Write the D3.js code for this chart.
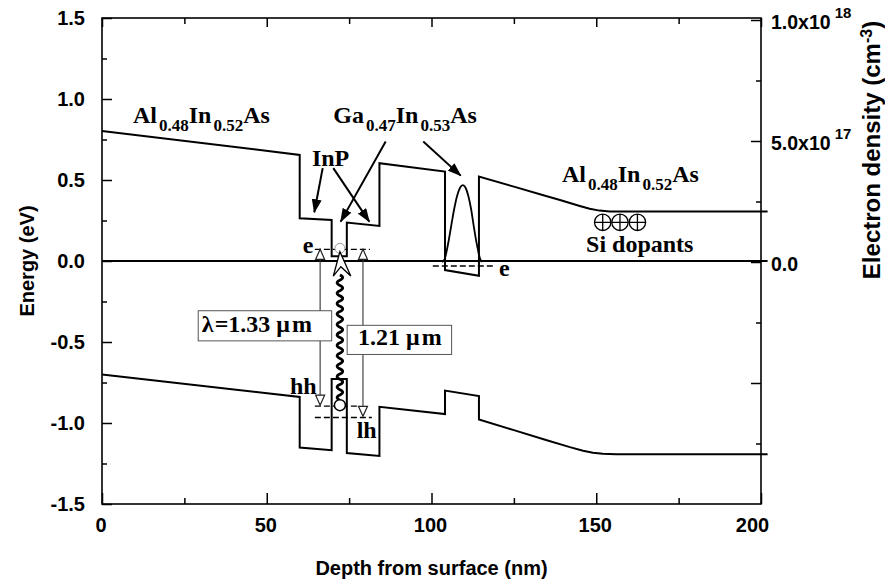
<!DOCTYPE html>
<html><head><meta charset="utf-8">
<script src="https://cdn.jsdelivr.net/npm/d3@7"></script>
<style>body{margin:0;background:#fff}</style>
</head><body>
<svg id="c" width="885" height="585" xmlns="http://www.w3.org/2000/svg"></svg>
<script>
// ---------------- data ----------------
const cbDepth  = [0, 60, 60, 69.7, 69.7, 74.3, 74.3, 84.2, 84.2, 104.1, 104.1, 114.4, 114.4, 125, 135, 139, 142, 145, 148, 151, 154, 202];
const cbEnergy = [0.803, 0.655, 0.264, 0.253, 0.03, 0.03, 0.237, 0.216, 0.604, 0.552, -0.056, -0.091, 0.521, 0.459, 0.400, 0.377, 0.358, 0.340, 0.323, 0.311, 0.305, 0.305];
const vbDepth  = [0, 60, 60, 69.7, 69.7, 74.3, 74.3, 84.2, 84.2, 104.1, 104.1, 114.4, 114.4, 125, 135, 142, 146, 149, 152, 156, 202];
const vbEnergy = [-0.70, -0.839, -1.151, -1.168, -0.729, -0.729, -1.185, -1.203, -0.90, -0.945, -0.80, -0.834, -0.978, -1.044, -1.106, -1.149, -1.171, -1.183, -1.190, -1.193, -1.193];
const densDepth = [103.2, 104.0, 104.6, 105.3, 106.1, 106.9, 107.8, 108.7, 109.5, 110.3, 111.2, 112.0, 112.7, 113.4, 114.1, 114.7, 115.3];
const densValue = [0, 0.12, 0.45, 0.95, 1.59, 2.2, 2.75, 3.08, 3.18, 3.08, 2.72, 2.2, 1.59, 1.0, 0.5, 0.15, 0]; // x1e17 cm^-3
const zeroLine = [[0, 0], [202, 0]];
// energy levels [x0, x1, E]
const levelE1  = [64.6, 81.3, 0.072];
const levelHH  = [64.6, 78.3, -0.896];
const levelLH  = [64.6, 81.9, -0.966];
const levelE2  = [100.4, 119.0, -0.031];

const xTicksMajor = [0, 50, 100, 150, 200];
const xTicksMinor = [25, 75, 125, 175];
const yTicksMajor = [-1.5, -1.0, -0.5, 0, 0.5, 1.0, 1.5];
const yTicksMinor = [-1.25, -0.75, -0.25, 0.25, 0.75, 1.25];
const rTicksMajor = [-5e17, 0, 5e17, 1e18];
const rTicksMinor = [-7.5e17, -2.5e17, 2.5e17, 7.5e17];
const rTickLabels = [[0, "0.0", ""], [5e17, "5.0x10", "17"], [1e18, "1.0x10", "18"]];

// ---------------- layout ----------------
const svg = d3.select("#c");
const W = 885, H = 585;
const x  = d3.scaleLinear().domain([0, 200]).range([102, 761]);
const y  = d3.scaleLinear().domain([-1.5, 1.5]).range([504, 18]);
const yR = d3.scaleLinear().domain([-1e18, 1e18]).range([504, 20]);

svg.append("rect").attr("width", W).attr("height", H).attr("fill", "#fff");

const serif = "'Liberation Serif','Times New Roman',serif";
const sans = "'Liberation Sans',Arial,Helvetica,sans-serif";

const defs = svg.append("defs");
defs.append("marker").attr("id", "ah").attr("viewBox", "0 0 14 10")
  .attr("refX", 13).attr("refY", 5).attr("markerWidth", 14).attr("markerHeight", 10)
  .attr("markerUnits", "userSpaceOnUse").attr("orient", "auto")
  .append("path").attr("d", "M0,0 L14,5 L0,10 Z").attr("fill", "#000");

const line = d3.line().x(d => x(d[0])).y(d => y(d[1]));

// bands
svg.append("path").attr("d", line(cbDepth.map((d, i) => [d, cbEnergy[i]])))
  .attr("fill", "none").attr("stroke", "#000").attr("stroke-width", 2);
svg.append("path").attr("d", line(vbDepth.map((d, i) => [d, vbEnergy[i]])))
  .attr("fill", "none").attr("stroke", "#000").attr("stroke-width", 2);
svg.append("path").attr("d", line(zeroLine))
  .attr("fill", "none").attr("stroke", "#000").attr("stroke-width", 1.8);

// electron density
const dline = d3.line().x(d => x(d[0])).y(d => yR(d[1] * 1e17)).curve(d3.curveMonotoneX);
svg.append("path").attr("d", dline(densDepth.map((d, i) => [d, densValue[i]])))
  .attr("fill", "none").attr("stroke", "#000").attr("stroke-width", 1.8);

// dashed levels
[levelE1, levelHH, levelLH, levelE2].forEach(l => {
  svg.append("line").attr("x1", x(l[0])).attr("x2", x(l[1])).attr("y1", y(l[2])).attr("y2", y(l[2]))
    .attr("stroke", "#000").attr("stroke-width", 1.4).attr("stroke-dasharray", "6,3");
});

// vertical transition lines with open triangle heads
function openTri(px, pyApex, dir) { // dir -1 = up, +1 = down
  const L = 10, w = 4.5;
  const by = pyApex - dir * L;
  svg.append("path").attr("d", `M${px},${pyApex} L${px - w},${by} L${px + w},${by} Z`)
    .attr("fill", "#fff").attr("stroke", "#222").attr("stroke-width", 1.2);
}
function vArrow(xd, eTop, eBot) {
  const px = x(xd);
  svg.append("line").attr("x1", px).attr("x2", px).attr("y1", y(eTop) + 9).attr("y2", y(eBot) - 9)
    .attr("stroke", "#333").attr("stroke-width", 1.1);
  openTri(px, y(eTop), -1);
  openTri(px, y(eBot), 1);
}
vArrow(66.2, levelE1[2], -0.890);
vArrow(79.2, levelE1[2], -0.959);

// label boxes
function box(x0, x1, e0, e1) {
  svg.append("rect").attr("x", x(x0)).attr("y", y(e0)).attr("width", x(x1) - x(x0)).attr("height", y(e1) - y(e0))
    .attr("fill", "#fff").attr("stroke", "#555").attr("stroke-width", 1);
}
box(29.2, 69.7, -0.307, -0.493);
box(74.4, 106.1, -0.397, -0.577);
const t1 = svg.append("text").attr("x", x(30.3)).attr("y", y(-0.437))
  .attr("font-family", serif).attr("font-weight", "bold").attr("font-size", 24);
t1.append("tspan").text("λ");
t1.append("tspan").attr("dx", 1).text("=1.33");
t1.append("tspan").attr("dx", 6).text("μ");
t1.append("tspan").attr("dx", 2).text("m");
const t2 = svg.append("text").attr("x", x(77.7)).attr("y", y(-0.519))
  .attr("font-family", serif).attr("font-weight", "bold").attr("font-size", 24);
t2.append("tspan").text("1.21");
t2.append("tspan").attr("dx", 6).text("μ");
t2.append("tspan").attr("dx", 2).text("m");

// electron circle (top)
svg.append("circle").attr("cx", x(72.2)).attr("cy", y(0.078)).attr("r", 5)
  .attr("fill", "#fff").attr("stroke", "#999").attr("stroke-width", 1);

// wavy photon line
{
  const px = x(72.2), yS = y(-0.859), yE = y(-0.0865);
  const n = 24, A = 2.8, step = (yS - yE) / n;
  let p = `M${px},${yS}`;
  for (let k = 0; k < n; k++) {
    const y0 = yS - k * step, y1 = y0 - step, cx = px + (k % 2 ? A : -A) * 2;
    p += ` Q${cx},${(y0 + y1) / 2} ${px},${y1}`;
  }
  svg.append("path").attr("d", p).attr("fill", "none").attr("stroke", "#000").attr("stroke-width", 2.8);
  // open arrowhead
  const tip = [x(72.2), y(0.0575)], lw = [x(70.2), y(-0.093)], nt = [x(72.5), y(-0.035)], rw = [x(75.5), y(-0.093)];
  svg.append("path").attr("d", `M${tip} L${lw} L${nt} L${rw} Z`)
    .attr("fill", "#fff").attr("stroke", "#000").attr("stroke-width", 1.3).attr("stroke-linejoin", "miter");
}
// hole circle
svg.append("circle").attr("cx", x(72.2)).attr("cy", y(-0.89)).attr("r", 5.5)
  .attr("fill", "#fff").attr("stroke", "#000").attr("stroke-width", 1.5);

// dopant circles
[151.96, 157.2, 162.5].forEach(d => {
  const cx = x(d), cy = y(0.239), r = 8.2;
  svg.append("circle").attr("cx", cx).attr("cy", cy).attr("r", r).attr("fill", "#fff").attr("stroke", "#000").attr("stroke-width", 1.3);
  svg.append("path").attr("d", `M${cx - r},${cy} H${cx + r} M${cx},${cy - r} V${cy + r}`).attr("stroke", "#000").attr("stroke-width", 1.3);
});

// annotation arrows
function arrow(a, b) {
  svg.append("line").attr("x1", x(a[0])).attr("y1", y(a[1])).attr("x2", x(b[0])).attr("y2", y(b[1]))
    .attr("stroke", "#000").attr("stroke-width", 2).attr("marker-end", "url(#ah)");
}
arrow([66.98, 0.573], [64.43, 0.301]);
arrow([70.2, 0.573], [81.12, 0.243]);
arrow([86.1, 0.737], [72.44, 0.243]);
arrow([97.5, 0.737], [108.86, 0.527]);

// text labels
function chem(xd, ed, parts) {
  const t = svg.append("text").attr("x", x(xd)).attr("y", y(ed))
    .attr("font-family", serif).attr("font-weight", "bold").attr("font-size", 24);
  let prevSub = false;
  parts.forEach(([s, sub]) => {
    const ts = t.append("tspan").text(s);
    if (sub) { ts.attr("font-size", 17).attr("dy", 8).attr("dx", 2); prevSub = true; }
    else if (prevSub) { ts.attr("dy", -8); prevSub = false; }
  });
}
chem(9.4, 0.851, [["Al", 0], ["0.48", 1], ["In", 0], ["0.52", 1], ["As", 0]]);
chem(70.2, 0.851, [["Ga", 0], ["0.47", 1], ["In", 0], ["0.53", 1], ["As", 0]]);
chem(139.6, 0.490, [["Al", 0], ["0.48", 1], ["In", 0], ["0.52", 1], ["As", 0]]);
function lbl(xd, ed, s) {
  svg.append("text").attr("x", x(xd)).attr("y", y(ed)).text(s)
    .attr("font-family", serif).attr("font-weight", "bold").attr("font-size", 24);
}
lbl(63.7, 0.589, "InP");
lbl(146.9, 0.0575, "Si dopants");
lbl(60.9, 0.049, "e");
lbl(120.5, -0.093, "e");
lbl(57.06, -0.818, "hh");
lbl(77.3, -1.094, "lh");

// ---------------- axes ----------------
function styleAxis(g) {
  g.select(".domain").remove();
  g.selectAll(".tick line").attr("stroke", "#000").attr("stroke-width", 1.5);
  g.selectAll("text").attr("font-family", sans).attr("font-weight", "bold").attr("font-size", 20).attr("fill", "#000");
}
// left
svg.append("g").attr("transform", `translate(${x(0)},0)`)
  .call(d3.axisLeft(y).tickValues(yTicksMajor).tickSize(-10).tickPadding(17).tickFormat(d => d.toFixed(1))).call(styleAxis);
svg.append("g").attr("transform", `translate(${x(0)},0)`)
  .call(d3.axisLeft(y).tickValues(yTicksMinor).tickSize(-5).tickFormat("")).call(styleAxis);
// bottom
const gb = svg.append("g").attr("transform", `translate(0,${y(-1.5)})`)
  .call(d3.axisBottom(x).tickValues(xTicksMajor).tickSize(-11).tickPadding(14).tickFormat(d3.format("d"))).call(styleAxis);
gb.selectAll(".tick text").attr("dx", (d, i) => i === xTicksMajor.length - 1 ? -9 : -1.5);
svg.append("g").attr("transform", `translate(0,${y(-1.5)})`)
  .call(d3.axisBottom(x).tickValues(xTicksMinor).tickSize(-6).tickFormat("")).call(styleAxis);
// top
svg.append("g").attr("transform", `translate(0,${y(1.5)})`)
  .call(d3.axisTop(x).tickValues(xTicksMajor).tickSize(-9).tickFormat("")).call(styleAxis);
svg.append("g").attr("transform", `translate(0,${y(1.5)})`)
  .call(d3.axisTop(x).tickValues(xTicksMinor).tickSize(-6).tickFormat("")).call(styleAxis);
// right
svg.append("g").attr("transform", `translate(${x(200)},0)`)
  .call(d3.axisRight(yR).tickValues(rTicksMajor).tickSize(-10).tickFormat("")).call(styleAxis);
svg.append("g").attr("transform", `translate(${x(200)},0)`)
  .call(d3.axisRight(yR).tickValues(rTicksMinor).tickSize(-5).tickFormat("")).call(styleAxis);
rTickLabels.forEach(([v, m, e]) => {
  const t = svg.append("text").attr("x", x(200) + 10).attr("y", yR(v) + 9)
    .attr("font-family", sans).attr("font-weight", "bold").attr("font-size", 19.5);
  t.append("tspan").text(m);
  if (e) t.append("tspan").attr("font-size", 15).attr("dx", 4).attr("dy", -11).text(e);
});

// frame
svg.append("rect").attr("x", x(0)).attr("y", y(1.5)).attr("width", x(200) - x(0)).attr("height", y(-1.5) - y(1.5))
  .attr("fill", "none").attr("stroke", "#000").attr("stroke-width", 1.6);

// axis titles
svg.append("text").attr("x", (x(0) + x(200)) / 2).attr("y", 575).attr("text-anchor", "middle")
  .attr("font-family", sans).attr("font-weight", "bold").attr("font-size", 20).text("Depth from surface (nm)");
svg.append("text").attr("transform", `translate(34,${y(0)}) rotate(-90)`).attr("text-anchor", "middle")
  .attr("font-family", sans).attr("font-weight", "bold").attr("font-size", 20).text("Energy (eV)");
{
  const t = svg.append("text").attr("transform", `translate(880,150) rotate(-90)`).attr("text-anchor", "middle")
    .attr("font-family", sans).attr("font-weight", "bold").attr("font-size", 24);
  t.append("tspan").text("Electron density (cm");
  t.append("tspan").attr("font-size", 16).attr("dy", -8).text("-3");
  t.append("tspan").attr("dy", 8).text(")");
}
</script>
</body></html>
